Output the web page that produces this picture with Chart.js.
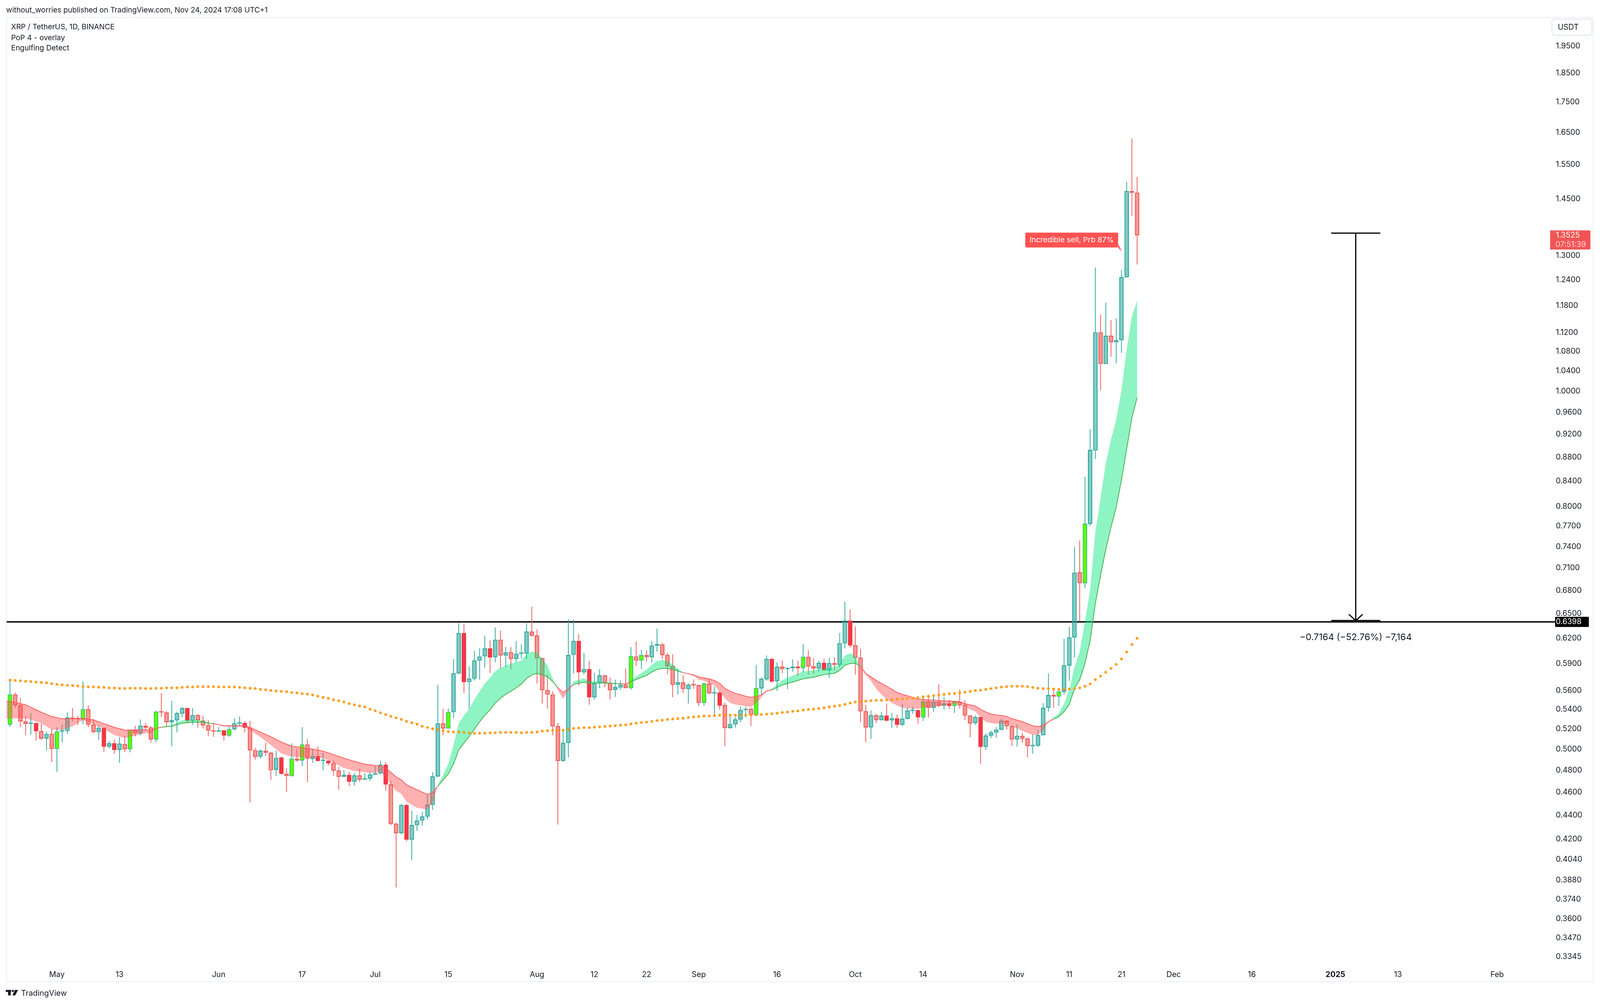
<!DOCTYPE html>
<html>
<head>
<meta charset="utf-8">
<title>XRP / TetherUS</title>
<script src="https://cdn.jsdelivr.net/npm/chart.js@4/dist/chart.umd.js"></script>
<style>
html, body { margin: 0; padding: 0; background: #fff; overflow: hidden; }
canvas { display: block; }
</style>
</head>
<body>
<canvas id="chart"></canvas>
<script>
// daily candles, index 0 = Apr 22 2024, index 216 = Nov 24 2024
let opens = [
    .5244,.5559,.5445,.5277,.5252,.5260,.5178,.5105,.5150,.5005,
    .5174,.5182,.5316,.5303,.5297,.5402,.5244,.5170,.5210,.5025,
    .5058,.4994,.5050,.5001,.5188,.5158,.5232,.5214,.5097,.5377,
    .5369,.5269,.5289,.5357,.5414,.5285,.5340,.5285,.5236,.5186,
    .5174,.5186,.5134,.5198,.5254,.5260,.5214,.4990,.4929,.4986,
    .4967,.4805,.4920,.4768,.4748,.4908,.4893,.5046,.4908,.4933,
    .4888,.4889,.4867,.4798,.4741,.4757,.4697,.4753,.4715,.4726,
    .4761,.4772,.4852,.4671,.4328,.4251,.4488,.4197,.4317,.4358,
    .4389,.4492,.4744,.5256,.5206,.5373,.5790,.6259,.5694,.5732,
    .5937,.5986,.6076,.5976,.6180,.5995,.6032,.5956,.6014,.6018,
    .6278,.6230,.5963,.5606,.5559,.5228,.4889,.5062,.6004,.6165,
    .5803,.5839,.5529,.5681,.5767,.5686,.5610,.5634,.5664,.5629,
    .5981,.5937,.6000,.5976,.6109,.6123,.6000,.5873,.5664,.5690,
    .5618,.5664,.5659,.5471,.5677,.5571,.5580,.5445,.5210,.5248,
    .5297,.5394,.5406,.5344,.5625,.5725,.5954,.5704,.5866,.5839,
    .5851,.5866,.5852,.5978,.5871,.5846,.5910,.5827,.5906,.5888,
    .6138,.6413,.6114,.5969,.5381,.5216,.5340,.5292,.5336,.5288,
    .5308,.5243,.5304,.5385,.5393,.5319,.5483,.5418,.5479,.5441,
    .5463,.5438,.5478,.5446,.5336,.5260,.5320,.5023,.5134,.5165,
    .5193,.5284,.5228,.5096,.5131,.5103,.5030,.5035,.5138,.5418,
    .5553,.5537,.5590,.5881,.6207,.7042,.6895,.7735,.8916,1.1204,
    1.054,1.1129,1.0995,1.1036,1.2466,1.4725,1.4680
];
let closes = [
    .5559,.5445,.5277,.5252,.5260,.5178,.5105,.5150,.5005,.5174,
    .5182,.5316,.5303,.5299,.5402,.5244,.5170,.5210,.5025,.5058,
    .4994,.5054,.5001,.5188,.5158,.5232,.5214,.5097,.5377,.5369,
    .5269,.5289,.5361,.5414,.5285,.5340,.5289,.5236,.5186,.5174,
    .5186,.5134,.5198,.5256,.5258,.5214,.4990,.4927,.4986,.4967,
    .4802,.4916,.4768,.4748,.4908,.4893,.5046,.4912,.4933,.4889,
    .4891,.4867,.4798,.4741,.4757,.4697,.4753,.4715,.4726,.4761,
    .4768,.4852,.4671,.4328,.4251,.4488,.4197,.4317,.4355,.4389,
    .4492,.4744,.5256,.5206,.5373,.5790,.6259,.5694,.5732,.5937,
    .5981,.6076,.5972,.6180,.5995,.6032,.5956,.6014,.6018,.6278,
    .6230,.5963,.5606,.5559,.5228,.4889,.5062,.6000,.6165,.5803,
    .5839,.5529,.5681,.5767,.5686,.5606,.5638,.5664,.5629,.5986,
    .5937,.6000,.5976,.6109,.6128,.6000,.5873,.5664,.5690,.5618,
    .5664,.5659,.5471,.5677,.5571,.5580,.5441,.5210,.5248,.5297,
    .5394,.5406,.5348,.5625,.5730,.5954,.5701,.5866,.5839,.5852,
    .5866,.5851,.5978,.5869,.5846,.5910,.5827,.5906,.5888,.6138,
    .6413,.6113,.5969,.5381,.5215,.5340,.5291,.5336,.5284,.5308,
    .5243,.5304,.5389,.5393,.5319,.5483,.5418,.5479,.5441,.5463,
    .5438,.5478,.5445,.5339,.5256,.5320,.5022,.5134,.5165,.5193,
    .5284,.5228,.5095,.5131,.5103,.5031,.5035,.5138,.5417,.5553,
    .5537,.5590,.5881,.6207,.7036,.6895,.7735,.8923,1.1204,1.054,
    1.1129,1.0995,1.1036,1.2466,1.4725,1.4680,1.3525
];
let highs = [
    .5723,.5578,.5520,.5330,.5361,.5262,.5254,.5174,.5198,.5216,
    .5244,.5365,.5412,.5332,.5705,.5443,.5299,.5238,.5212,.5079,
    .5093,.5118,.5130,.5194,.5230,.5295,.5258,.5228,.5383,.5571,
    .5383,.5490,.5377,.5426,.5416,.5412,.5352,.5332,.5287,.5262,
    .5218,.5188,.5232,.5307,.5326,.5281,.5281,.5011,.4996,.5063,
    .4969,.4984,.4922,.4818,.5056,.5001,.5216,.5099,.5001,.5025,
    .4961,.4891,.4891,.4830,.4804,.4785,.4774,.4815,.4770,.4783,
    .4844,.4889,.4876,.4699,.4337,.4495,.4495,.4438,.4401,.4426,
    .4582,.4781,.5661,.5406,.5408,.5949,.6381,.6371,.5868,.6050,
    .6078,.6228,.6172,.6327,.6291,.6092,.6092,.6163,.6128,.6381,
    .6586,.6303,.5967,.5778,.5593,.5258,.5188,.6433,.6423,.6247,
    .6025,.5933,.5796,.5837,.5769,.5743,.5721,.5710,.5844,.6092,
    .6158,.6060,.6055,.6163,.6313,.6140,.6023,.6007,.5841,.5769,
    .5679,.5723,.5664,.5686,.5727,.5646,.5597,.5471,.5340,.5320,
    .5431,.5426,.5418,.5885,.5745,.5993,.5960,.5916,.5934,.5857,
    .5948,.5931,.6130,.6056,.5961,.5931,.5956,.5966,.5975,.6262,
    .6650,.6551,.6342,.6068,.5448,.5390,.5352,.5374,.5460,.5358,
    .5346,.5453,.5419,.5432,.5395,.5545,.5556,.5539,.5668,.5531,
    .5500,.5490,.5611,.5497,.5341,.5337,.5322,.5155,.5182,.5218,
    .5304,.5286,.5236,.5245,.5159,.5114,.5147,.5190,.5465,.5788,
    .5602,.5616,.6190,.6332,.7400,.7484,.8473,.9287,1.2700,1.1596,
    1.1863,1.1472,1.1508,1.2640,1.4995,1.6300,1.5133
];
let lows = [
    .5222,.5418,.5218,.5138,.5144,.5085,.5089,.4990,.4878,.4787,
    .5069,.5150,.5277,.5242,.5250,.5218,.5158,.5093,.4975,.5009,
    .4959,.4871,.4975,.4971,.5126,.5138,.5194,.5065,.5069,.5324,
    .5226,.5030,.5168,.5320,.5258,.5242,.5214,.5206,.5130,.5122,
    .5172,.5085,.5122,.5186,.5238,.5166,.4513,.4901,.4912,.4935,
    .4712,.4748,.4761,.4604,.4744,.4882,.4841,.4693,.4871,.4884,
    .4802,.4843,.4748,.4622,.4739,.4655,.4661,.4695,.4713,.4704,
    .4759,.4766,.4617,.4317,.3827,.4240,.4185,.4035,.4272,.4313,
    .4365,.4447,.4741,.5138,.5204,.5312,.5785,.5578,.5406,.5712,
    .5723,.5857,.5796,.5917,.5846,.5862,.5839,.5915,.5956,.5956,
    .6218,.5679,.5464,.5410,.5138,.4322,.4882,.4925,.5790,.5657,
    .5778,.5452,.5503,.5627,.5640,.5507,.5535,.5610,.5627,.5612,
    .5875,.5841,.5926,.5913,.6041,.5954,.5783,.5530,.5561,.5574,
    .5464,.5625,.5437,.5443,.5565,.5324,.5400,.5030,.5204,.5214,
    .5271,.5320,.5230,.5334,.5561,.5708,.5688,.5600,.5792,.5619,
    .5810,.5766,.5802,.5778,.5789,.5814,.5824,.5740,.5827,.5858,
    .6079,.6088,.5778,.5271,.5071,.5102,.5263,.5284,.5282,.5211,
    .5211,.5232,.5299,.5355,.5254,.5283,.5317,.5375,.5427,.5400,
    .5407,.5366,.5411,.5293,.5118,.5242,.4862,.4992,.5111,.5114,
    .5188,.5194,.5032,.5026,.5064,.4921,.4958,.5022,.5138,.5380,
    .5418,.5437,.5559,.5708,.5971,.6404,.6829,.7708,.8770,1.002,
    1.054,1.0689,1.0553,1.077,1.2466,1.4034,1.2781
];
// U plain up, D plain down, G engulfing up, R engulfing down
let kinds = (
    "GDDDURDUDG" + "UUDDGDDURU" + "RUDGDUDDGD" + "DUUURUDDDD" + "GRGUURDDUD" +
    "DURDGDGDUR" + "URDDURUDUU" + "UURDDURUUU" + "UUUDGUURUU" + "UURUDUDUUU" +
    "DDDDDDUUUR" + "URUUDDUUDG" + "DGDUUDDDUD" + "UDDGDURDUU" + "UUDGUURUDU" +
    "URGDDURUDU" + "URDDDUDURU" + "RUUURGDUDU" + "RGDDDURUUU" + "UDDUDDUUUU" +
    "DGUUUDGUUD" + "UDUUUDD"
).split("");

// PoP ribbon, read at these candle positions
let ribbonIdx = [
    -1,0,3,6,8,10,12,14,16,18,20,22,24,26,27,28,29,31,33,35,37,39,41,43,45,46,48,50,52,54,
    56,58,60,62,64,66,68,70,71,72,74,75,76,78,80,81,82,83,84,85,86,87,88,89,90,91,92,93,94,95,
    96,97,98,99,100,101,102,103,104,105,106,107,108,109,110,111,113,115,117,118,119,120,121,122,123,124,125,126,127,128,
    129,130,131,132,133,134,135,136,137,138,139,140,141,142,143,144,145,146,148,150,152,154,156,158,159,160,161,162,163,164,
    165,166,167,168,169,170,171,172,173,174,175,176,177,178,179,180,181,182,183,184,185,186,187,188,189,190,191,192,193,194,
    195,196,197,198,199,200,201,202,203,204,205,206,207,208,209,210,211,212,213,214,215,216
];
let slowLine = [
    .5484,.5486,.5449,.5371,.5326,.5303,.5303,.5309,.5291,.5254,.5216,.5188,.5190,.5192,.5184,.5206,.5218,.5228,.5258,.5269,.5267,.5252,.5234,.5232,.5234,.5214,.5168,.5122,.5069,.5030,
    .5016,.5001,.4982,.4948,.4914,.4884,.4858,.4844,.4843,.4822,.4739,.4712,.4666,.4622,.4581,.4598,.4657,.4712,.4766,.4859,.4992,.5060,.5124,.5198,.5273,.5340,.5396,.5469,.5518,.5561,
    .5593,.5631,.5672,.5734,.5774,.5790,.5774,.5752,.5701,.5631,.5582,.5618,.5668,.5679,.5694,.5679,.5684,.5681,.5677,.5672,.5697,.5723,.5745,.5767,.5807,.5835,.5846,.5846,.5835,.5816,
    .5800,.5787,.5774,.5750,.5741,.5730,.5712,.5679,.5625,.5593,.5571,.5557,.5539,.5529,.5537,.5554,.5597,.5608,.5662,.5694,.5730,.5747,.5776,.5792,.5824,.5883,.5902,.5905,.5869,.5788,
    .5751,.5711,.5680,.5648,.5615,.5580,.5559,.5545,.5527,.5510,.5507,.5500,.5499,.5493,.5490,.5489,.5486,.5482,.5461,.5448,.5437,.5400,.5373,.5352,.5343,.5336,.5329,.5305,.5289,.5275,
    .5252,.5232,.5223,.5239,.5272,.5301,.5325,.5378,.5453,.5621,.5720,.5901,.6172,.6630,.7000,.7358,.7685,.7990,.8418,.8938,.9499,.9873
];
let fastLine = [
    .5295,.5309,.5309,.5258,.5194,.5188,.5228,.5289,.5248,.5202,.5138,.5109,.5134,.5158,.5154,.5206,.5222,.5238,.5289,.5295,.5283,.5252,.5226,.5222,.5222,.5188,.5118,.5040,.4959,.4929,
    .4921,.4921,.4916,.4869,.4822,.4794,.4781,.4776,.4794,.4730,.4613,.4586,.4516,.4464,.4450,.4507,.4666,.4757,.4859,.5040,.5254,.5340,.5402,.5507,.5593,.5679,.5741,.5816,.5852,.5880,
    .5903,.5915,.5937,.6007,.6041,.6030,.5960,.5880,.5734,.5604,.5511,.5604,.5701,.5719,.5737,.5705,.5703,.5688,.5677,.5670,.5712,.5756,.5796,.5835,.5887,.5930,.5944,.5930,.5892,.5839,
    .5800,.5783,.5763,.5719,.5708,.5679,.5657,.5593,.5518,.5469,.5452,.5443,.5433,.5426,.5464,.5529,.5597,.5622,.5715,.5766,.5810,.5827,.5846,.5861,.5898,.5996,.6021,.5988,.5861,.5773,
    .5708,.5622,.5559,.5510,.5468,.5441,.5418,.5411,.5407,.5407,.5420,.5420,.5427,.5434,.5441,.5450,.5461,.5468,.5434,.5400,.5380,.5319,.5272,.5259,.5252,.5252,.5252,.5225,.5206,.5180,
    .5160,.5141,.5141,.5186,.5272,.5317,.5359,.5460,.5609,.5866,.6039,.6404,.6811,.7618,.8131,.8697,.9102,.9466,1.0015,1.0842,1.1561,1.1909
];
// orange moving average, one dot per candle
let maDots = [
    .5716,.5712,.5708,.5703,.5699,.5694,.5690,.5686,.5677,.5668,
    .5664,.5659,.5655,.5651,.5646,.5642,.5642,.5638,.5636,.5631,
    .5629,.5625,.5625,.5627,.5627,.5627,.5623,.5623,.5627,.5627,
    .5631,.5631,.5631,.5636,.5640,.5640,.5644,.5644,.5644,.5644,
    .5640,.5640,.5640,.5640,.5636,.5631,.5627,.5623,.5614,.5610,
    .5602,.5597,.5593,.5589,.5580,.5576,.5567,.5563,.5554,.5541,
    .5529,.5518,.5503,.5492,.5479,.5462,.5449,.5437,.5427,.5402,
    .5386,.5365,.5348,.5328,.5313,.5297,.5277,.5262,.5248,.5228,
    .5216,.5202,.5194,.5182,.5174,.5170,.5170,.5166,.5162,.5158,
    .5158,.5158,.5162,.5162,.5166,.5166,.5166,.5166,.5162,.5166,
    .5166,.5170,.5178,.5182,.5186,.5186,.5188,.5194,.5206,.5210,
    .5214,.5214,.5218,.5222,.5226,.5230,.5234,.5238,.5242,.5250,
    .5258,.5265,.5269,.5277,.5285,.5289,.5297,.5301,.5305,.5309,
    .5317,.5322,.5326,.5332,.5332,.5336,.5340,.5340,.5340,.5340,
    .5340,.5340,.5340,.5344,.5348,.5352,.5356,.5361,.5369,.5373,
    .5381,.5385,.5393,.5400,.5405,.5410,.5418,.5426,.5434,.5442,
    .5454,.5467,.5479,.5483,.5488,.5492,.5496,.5497,.5500,.5504,
    .5509,.5513,.5517,.5521,.5525,.5534,.5538,.5546,.5555,.5559,
    .5567,.5571,.5576,.5584,.5592,.5601,.5605,.5614,.5622,.5631,
    .5639,.5644,.5648,.5648,.5648,.5644,.5635,.5627,.5622,.5622,
    .5618,.5614,.5614,.5618,.5622,.5631,.5648,.5674,.5721,.5760,
    .5804,.5848,.5892,.5955,.6036,.6124,.6198
];

let xTickIdx = [9, 21, 40, 56, 70, 84, 101, 112, 122, 132, 147, 162, 175, 193, 203, 213, 223, 238, 254, 266, 285];
let xTickLabels = ["May", "13", "Jun", "17", "Jul", "15", "Aug", "12", "22", "Sep", "16", "Oct", "14", "Nov", "11", "21", "Dec", "16", "2025", "13", "Feb"];
let priceTicks = [
    1.95, 1.85, 1.75, 1.65, 1.55, 1.45, 1.30, 1.24, 1.18, 1.12, 1.08, 1.04, 1.00, 0.96, 0.92, 0.88, 0.84, 0.80, 0.77, 0.74,
    0.71, 0.68, 0.65, 0.62, 0.59, 0.56, 0.54, 0.52, 0.50, 0.48, 0.46, 0.44, 0.42, 0.404, 0.388, 0.374, 0.36, 0.347, 0.3345
];

let levelPrice = 0.6398;
let lastPrice = 1.3525;
let measureIdx = 257.9;
let measureTop = 1.3578;
let measureBottom = 0.6414;
let calloutIdx = 213.1;
let calloutPrice = 1.3096;

const xMin = -0.66;
const xMax = 296.1;
const fontName = "Inter, 'Noto Sans', sans-serif";
const textColor = "#131722";
const teal = "#26a69a";
const red = "#ef5350";

// the browser may cap the window, so every layout number is scaled from 4168x2569
const sx = window.innerWidth / 4168;
const sy = window.innerHeight / 2569;
const X = v => v * sx;
const Y = v => v * sy;

let candleIdx = opens.map((v, i) => i);

function bodyFill(kind) {
    if (kind === "G") return "#5cff00";
    if (kind === "R") return "#f23645";
    if (kind === "U") return "rgba(38,166,154,0.58)";
    return "rgba(239,83,80,0.6)";
}

function isUp(kind) {
    return kind === "G" || kind === "U";
}

function roundedBox(ctx, x, y, w, h, r, color) {
    ctx.fillStyle = color;
    ctx.beginPath();
    ctx.roundRect(x, y, w, h, r);
    ctx.fill();
}

function putText(ctx, text, x, y, size, color, align, weight) {
    ctx.font = (weight || "normal") + " " + X(size) + "px " + fontName;
    ctx.fillStyle = color;
    ctx.textAlign = align || "left";
    ctx.textBaseline = "middle";
    ctx.fillText(text, x, y);
}

let chromePlugin = {
    id: "chrome",
    beforeDraw(chart) {
        let ctx = chart.ctx;
        ctx.save();
        ctx.strokeStyle = "#f0f3fa";
        ctx.lineWidth = 3;
        ctx.strokeRect(X(16.5), Y(44.5), X(4134), Y(2467));
        ctx.restore();
    },
    afterDraw(chart) {
        let ctx = chart.ctx;
        let x = chart.scales.x;
        let y = chart.scales.y;
        ctx.save();

        // measure tool
        let mx = x.getPixelForValue(measureIdx);
        let my1 = y.getPixelForValue(measureTop);
        let my2 = y.getPixelForValue(measureBottom);
        ctx.strokeStyle = "#000";
        ctx.lineWidth = 3;
        ctx.beginPath();
        ctx.moveTo(mx - X(64), my1);
        ctx.lineTo(mx + X(64), my1);
        ctx.moveTo(mx - X(64), my2);
        ctx.lineTo(mx + X(64), my2);
        ctx.moveTo(mx, my1);
        ctx.lineTo(mx, my2);
        ctx.moveTo(mx - X(18), my2 - Y(16));
        ctx.lineTo(mx, my2);
        ctx.lineTo(mx + X(18), my2 - Y(16));
        ctx.stroke();
        putText(ctx, "\u22120.7164 (\u221252.76%) \u22127,164", mx, my2 + Y(43), 23.7, textColor, "center");

        // signal callout
        let cx = x.getPixelForValue(calloutIdx);
        let cy = y.getPixelForValue(calloutPrice);
        roundedBox(ctx, cx - X(252), cy - Y(49), X(242), Y(38), 3, "#ff5252");
        ctx.beginPath();
        ctx.moveTo(cx - X(10), cy - Y(20));
        ctx.lineTo(cx, cy);
        ctx.lineTo(cx - X(10), cy - Y(11));
        ctx.closePath();
        ctx.fill();
        putText(ctx, "Incredible sell, Prb 87%", cx - X(131), cy - Y(30), 19.6, "#ffffff", "center");

        // price axis labels
        let py = y.getPixelForValue(lastPrice);
        roundedBox(ctx, X(4038), py - Y(12), X(105), Y(49), [0, 3, 3, 0], "#f05555");
        putText(ctx, lastPrice.toFixed(4), X(4053), py, 20, "#ffffff");
        putText(ctx, "07:51:39", X(4052), py + Y(24), 20, "#ffd5d5");
        let ly = y.getPixelForValue(levelPrice);
        roundedBox(ctx, X(4051), ly - Y(13), X(88), Y(26), 2, "#000000");
        putText(ctx, levelPrice.toFixed(4), X(4053), ly, 20, "#ffffff");

        ctx.strokeStyle = "#e0e3eb";
        ctx.lineWidth = 2;
        ctx.beginPath();
        ctx.roundRect(X(4043), Y(49), X(104), Y(41), 6);
        ctx.stroke();
        putText(ctx, "USDT", X(4058), Y(70), 20, textColor);

        // header, legend, footer
        putText(ctx, "without_worries published on TradingView.com, Nov 24, 2024 17:08 UTC+1", X(16), Y(26), 19.2, textColor);
        putText(ctx, "XRP / TetherUS, 1D, BINANCE", X(29), Y(69), 19.3, textColor);
        putText(ctx, "PoP 4 - overlay", X(29), Y(97), 19.3, textColor);
        putText(ctx, "Engulfing Detect", X(29), Y(123), 19.3, textColor);

        ctx.fillStyle = textColor;
        ctx.fillRect(X(15), Y(2533), X(14), Y(5));
        ctx.fillRect(X(21), Y(2533), X(7), Y(14));
        ctx.beginPath();
        ctx.arc(X(33.5), Y(2535.5), X(2.8), 0, Math.PI * 2);
        ctx.moveTo(X(39), Y(2533));
        ctx.lineTo(X(47), Y(2533));
        ctx.lineTo(X(39.5), Y(2547));
        ctx.lineTo(X(32.5), Y(2547));
        ctx.closePath();
        ctx.fill();
        putText(ctx, "TradingView", X(55), Y(2542), 20.2, textColor);
        ctx.restore();
    }
};

function initChart() {
    let canvas = document.getElementById("chart");
    canvas.width = window.innerWidth;
    canvas.height = window.innerHeight;
    new Chart(canvas.getContext("2d"), {
        type: "bar",
        plugins: [chromePlugin],
        data: {
            datasets: [
                {
                    type: "line",
                    order: 7,
                    data: [{x: xMin, y: levelPrice}, {x: xMax, y: levelPrice}],
                    borderColor: "#000000",
                    borderWidth: 3.5,
                    pointRadius: 0
                },
                {
                    order: 6,
                    grouped: false,
                    barThickness: 1.2,
                    data: candleIdx.map(i => ({x: i, y: [Math.max(opens[i], closes[i]), highs[i]]})),
                    backgroundColor: kinds.map(k => isUp(k) ? teal : red),
                    borderWidth: 0
                },
                {
                    order: 5,
                    grouped: false,
                    barThickness: 1.2,
                    data: candleIdx.map(i => ({x: i, y: [lows[i], Math.min(opens[i], closes[i])]})),
                    backgroundColor: kinds.map(k => isUp(k) ? teal : red),
                    borderWidth: 0
                },
                {
                    order: 4,
                    grouped: false,
                    barThickness: X(11),
                    minBarLength: 3,
                    data: candleIdx.map(i => ({x: i, y: [opens[i], closes[i]]})),
                    backgroundColor: kinds.map(bodyFill),
                    borderColor: kinds.map(k => k === "R" ? "#f23645" : (isUp(k) ? teal : red)),
                    borderWidth: 1.5,
                    borderSkipped: false
                },
                {
                    type: "line",
                    order: 3,
                    data: ribbonIdx.map((v, i) => ({x: v, y: fastLine[i]})),
                    borderWidth: 0,
                    pointRadius: 0,
                    fill: {target: "+1", above: "rgba(0,230,118,0.44)", below: "rgba(255,82,82,0.46)"}
                },
                {
                    type: "line",
                    order: 2,
                    data: ribbonIdx.map((v, i) => ({x: v, y: slowLine[i]})),
                    borderColor: "#ff5252",
                    borderWidth: 2,
                    pointRadius: 0,
                    segment: {
                        borderColor: ctx => fastLine[ctx.p0DataIndex] > slowLine[ctx.p0DataIndex] ? "#4caf50" : "#ff5a5f"
                    }
                },
                {
                    type: "line",
                    order: 1,
                    data: maDots.map((v, i) => ({x: i, y: v})),
                    showLine: false,
                    pointRadius: 3.5,
                    pointBorderWidth: 0,
                    pointBackgroundColor: "#ff9d1a"
                }
            ]
        },
        options: {
            responsive: false,
            devicePixelRatio: 1,
            animation: false,
            events: [],
            layout: {padding: {left: X(17), top: Y(45), right: 0, bottom: 0}},
            plugins: {legend: {display: false}, tooltip: {enabled: false}},
            scales: {
                x: {
                    type: "linear",
                    min: xMin,
                    max: xMax,
                    offset: false,
                    grid: {display: false, drawTicks: false},
                    border: {display: false},
                    afterBuildTicks: scale => { scale.ticks = xTickIdx.map(v => ({value: v})); },
                    afterFit: scale => { scale.height = Y(99); },
                    ticks: {
                        autoSkip: false,
                        maxRotation: 0,
                        padding: Y(12),
                        color: textColor,
                        font: c => ({family: fontName, size: X(20), weight: c.tick && c.tick.value === 254 ? "bold" : "normal"}),
                        callback: v => xTickLabels[xTickIdx.indexOf(v)]
                    }
                },
                y: {
                    type: "logarithmic",
                    position: "right",
                    min: 0.3291,
                    max: 2.0606,
                    bounds: "data",
                    grid: {display: false, drawTicks: false},
                    border: {display: false},
                    afterBuildTicks: scale => { scale.ticks = priceTicks.map(v => ({value: v})); },
                    afterFit: scale => { scale.width = X(117); },
                    ticks: {
                        autoSkip: false,
                        padding: X(2),
                        color: textColor,
                        font: {family: fontName, size: X(20)},
                        callback: v => v.toFixed(4)
                    }
                }
            }
        }
    });
}

window.onload = initChart;
</script>
</body>
</html>
